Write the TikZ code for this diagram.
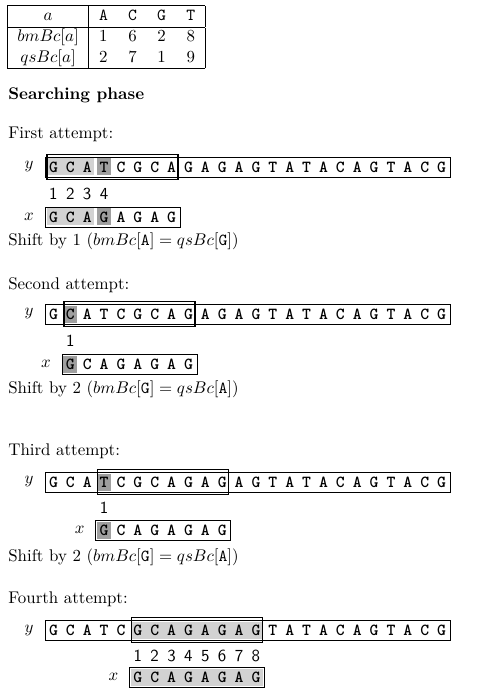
\documentclass[tikz,border=0pt]{standalone}
\usepackage{amsmath,amssymb}
\usepackage{tikz}
\usetikzlibrary{calc, positioning}
\setlength{\arrayrulewidth}{0.6pt}

\newcommand{\ytext}{G,C,A,T,C,G,C,A,G,A,G,A,G,T,A,T,A,C,A,G,T,A,C,G}
\newcommand{\xtext}{G,C,A,G,A,G,A,G}
\newcommand{\cw}{16.875}
% text y on a row at height #2, nodes named #1
\newcommand{\yrow}[2]{%
  \draw[strbox] (45,#2-10) rectangle (450,#2+10);
  \node (#1-lbl) at (29,#2) {$y$};
  \foreach \c [count=\i from 0] in \ytext
    \node[letter] (#1-\i) at ({45+(\i+0.5)*\cw},#2) {\c};}
% pattern x on a row at height #2, first letter on cell #3
\newcommand{\xrow}[3]{%
  \draw[strbox] ({45+#3*\cw},#2-10) rectangle ({45+(#3+8)*\cw},#2+10);
  \node (#1-lbl) at ({45+#3*\cw-16},#2) {$x$};
  \foreach \c [count=\i from 0] in \xtext
    \node[letter] (#1-\i) at ({45+(#3+\i+0.5)*\cw},#2) {\c};}
% cells #2 to #3 filled with style #4 on the row at height #1
\newcommand{\hilite}[4]{%
  \fill[#4] ({45+#2*\cw+1.5},#1-8.5) rectangle ({45+(#3+1)*\cw-1.5},#1+8.5);}
% window on the row at height #1 from cell #2
\newcommand{\window}[2]{%
  \draw[winbox] ({45+#2*\cw+2},#1-12.5) rectangle ({45+(#2+8)*\cw-2},#1+12.5);}

\begin{document}
\begin{tikzpicture}[x=0.5926pt, y=-0.5926pt,
    letter/.style={font=\ttfamily\bfseries, inner sep=0pt, text height=6.1pt, text depth=0pt},
    strbox/.style={draw, line width=0.4pt},
    winbox/.style={draw, line width=0.8pt},
    hit/.style={fill=gray!35},
    miss/.style={fill=gray!75},
    idx/.style={font=\sffamily, inner sep=0pt, text height=6.5pt, text depth=0pt},
    txt/.style={anchor=base west, inner sep=0pt}]
\useasboundingbox (0,0) rectangle (480,697);

% table
\node[anchor=north west, inner sep=0pt] (tab) at (7,5) {%
  \begin{tabular}{|c|cccc|}
  \hline
  $a$ & \texttt{A} & \texttt{C} & \texttt{G} & \texttt{T} \\
  \hline
  $bmBc[a]$ & 1 & 6 & 2 & 8 \\
  $qsBc[a]$ & 2 & 7 & 1 & 9 \\
  \hline
  \end{tabular}};
\node[txt] (phase) at (8,100) {\textbf{Searching phase}};

% first attempt
\node[txt] (att1) at (8,139) {First attempt:};
\hilite{167}{0}{2}{hit} \hilite{167}{3}{3}{miss}
\hilite{217}{0}{2}{hit} \hilite{217}{3}{3}{miss}
\yrow{y1}{167}
\window{167}{0}
\foreach \k in {1,...,4}
  \node[idx] (n1-\k) at ({45+(\k-0.5)*\cw},194) {\k};
\xrow{x1}{217}{0}
\node[txt] (shift1) at (8,246) {Shift by 1 ($bmBc[\texttt{A}] = qsBc[\texttt{G}]$)};

% second attempt
\node[txt] (att2) at (8,289) {Second attempt:};
\hilite{314}{1}{1}{miss}
\hilite{364}{1}{1}{miss}
\yrow{y2}{314}
\window{314}{1}
\node[idx] (n2-1) at ({45+1.5*\cw},341) {1};
\xrow{x2}{364}{1}
\node[txt] (shift2) at (8,393) {Shift by 2 ($bmBc[\texttt{G}] = qsBc[\texttt{A}]$)};

% third attempt
\node[txt] (att3) at (8,455) {Third attempt:};
\hilite{482}{3}{3}{miss}
\hilite{530}{3}{3}{miss}
\yrow{y3}{482}
\window{482}{3}
\node[idx] (n3-1) at ({45+3.5*\cw},508) {1};
\xrow{x3}{530}{3}
\node[txt] (shift3) at (8,561) {Shift by 2 ($bmBc[\texttt{G}] = qsBc[\texttt{A}]$)};

% fourth attempt
\node[txt] (att4) at (8,603) {Fourth attempt:};
\hilite{630}{5}{12}{hit}
\hilite{677}{5}{12}{hit}
\yrow{y4}{630}
\window{630}{5}
\foreach \k in {1,...,8}
  \node[idx] (n4-\k) at ({45+(4.5+\k)*\cw},656) {\k};
\xrow{x4}{677}{5}

\end{tikzpicture}
\end{document}
